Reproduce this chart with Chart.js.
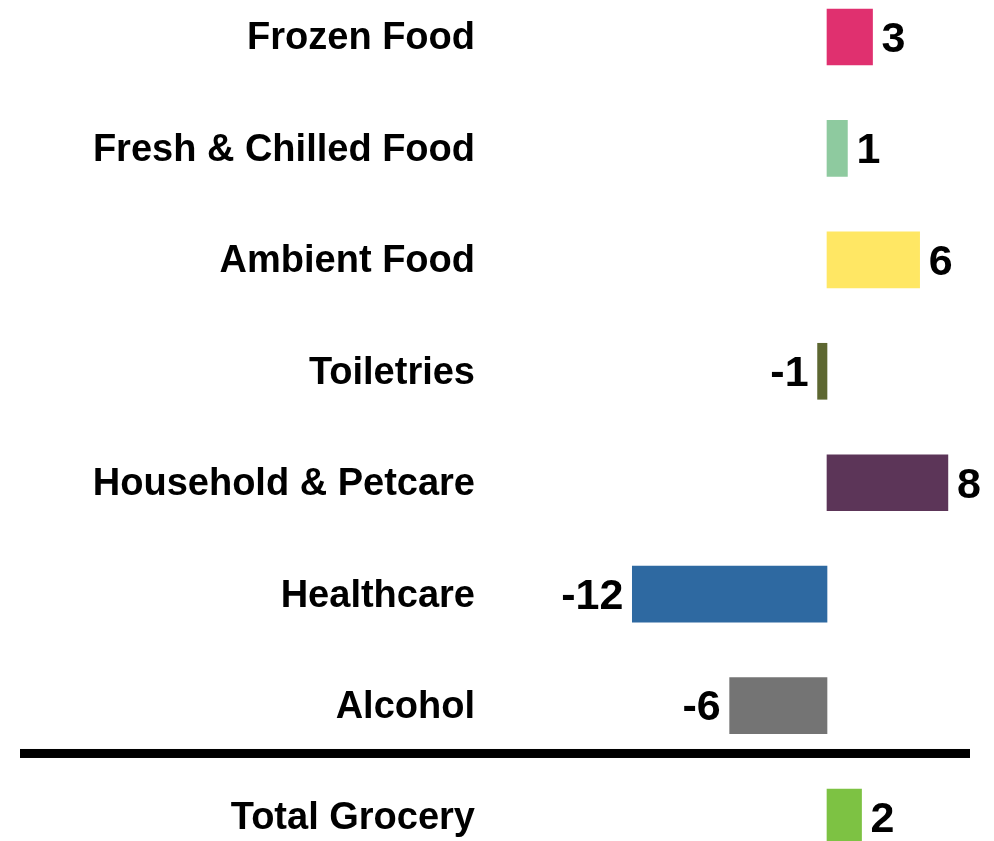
<!DOCTYPE html>
<html lang="en">
<head>
<meta charset="UTF-8">
<title>Grocery category growth</title>
<script src="https://cdn.jsdelivr.net/npm/chart.js"></script>
<style>
    body { margin: 0; background: #fff; }
    #chartBox { width: 994px; height: 841px; }
</style>
</head>
<body>

<div id="chartBox">
    <canvas id="growthChart"></canvas>
</div>

<script>
    const categories = ['Frozen Food', 'Fresh & Chilled Food', 'Ambient Food', 'Toiletries',
                        'Household & Petcare', 'Healthcare', 'Alcohol', 'Total Grocery'];
    const growth = [2.9, 1.3, 5.9, -0.6, 7.7, -12.4, -6.2, 2.2];
    const barColours = ['#E0306F', '#8ECA9F', '#FFE764', '#5D6731',
                        '#5C3558', '#2E69A1', '#747474', '#7DC243'];
    const xMin = -20;
    const xMax = 10;

    const FONT = '"Liberation Sans", Arial, sans-serif';
    Chart.defaults.font.family = FONT;

    // value labels next to the bar ends
    const valueLabels = {
        id: 'valueLabels',
        afterDatasetsDraw(chart) {
            const ctx = chart.ctx;
            const meta = chart.getDatasetMeta(0);
            ctx.save();
            ctx.font = 'bold 43px ' + FONT;
            ctx.fillStyle = '#000';
            ctx.textBaseline = 'middle';
            meta.data.forEach((bar, i) => {
                const v = growth[i];
                const neg = v < 0;
                ctx.textAlign = neg ? 'right' : 'left';
                ctx.fillText(String(Math.round(v)), bar.x + (neg ? -9 : 9), bar.y + 3);
            });
            ctx.restore();
        }
    };

    // thick rule above the total row
    const separator = {
        id: 'separator',
        afterDatasetsDraw(chart) {
            const ctx = chart.ctx;
            const y = chart.scales.y.getPixelForValue(6.43);
            ctx.save();
            ctx.fillStyle = '#000';
            ctx.fillRect(20, y - 4.5, 950, 9);
            ctx.restore();
        }
    };

    new Chart(document.getElementById('growthChart'), {
        type: 'bar',
        data: {
            labels: categories,
            datasets: [{
                data: growth,
                backgroundColor: barColours,
                borderWidth: 0,
                barThickness: 56,
                clip: false
            }]
        },
        options: {
            indexAxis: 'y',
            responsive: true,
            maintainAspectRatio: false,
            animation: false,
            layout: { padding: { top: 37, bottom: 24, left: 0, right: 10 } },
            plugins: {
                legend: { display: false },
                tooltip: { enabled: false }
            },
            scales: {
                x: {
                    display: false,
                    min: xMin,
                    max: xMax
                },
                y: {
                    offset: false,
                    grid: { display: false, drawTicks: false },
                    border: { display: false },
                    ticks: {
                        autoSkip: false,
                        padding: 38,
                        labelOffset: 2,
                        color: '#000',
                        font: { size: 38, weight: 'bold' }
                    },
                    afterFit(scale) {
                        scale.width = 513;
                        scale.paddingTop = 0;
                        scale.paddingBottom = 0;
                    }
                }
            }
        },
        plugins: [valueLabels, separator]
    });
</script>

</body>
</html>
